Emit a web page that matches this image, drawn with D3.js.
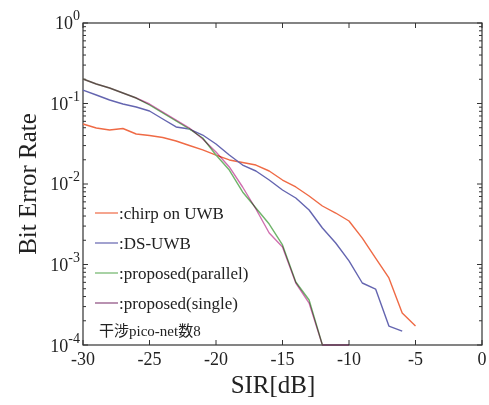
<!DOCTYPE html>
<html><head><meta charset="utf-8">
<script src="https://cdn.jsdelivr.net/npm/d3@7"></script>
<style>body{margin:0;background:#fff}svg{display:block}</style>
</head><body>
<script>
const xChirp = [-30,-29,-28,-27,-26,-25,-24,-23,-22,-21,-20,-19,-18,-17,-16,-15,-14,-13,-12,-11,-10,-9,-8,-7,-6,-5];
const berChirp = [0.0556,0.0496,0.0469,0.0489,0.0418,0.0400,0.0378,0.0342,0.0301,0.0265,0.0229,0.0199,0.0185,0.0172,0.0145,0.0112,0.00918,0.00710,0.00533,0.00436,0.00347,0.00213,0.00120,0.00068,0.000250,0.000172];
const xDS = [-30,-29,-28,-27,-26,-25,-24,-23,-22,-21,-20,-19,-18,-17,-16,-15,-14,-13,-12,-11,-10,-9,-8,-7,-6];
const berDS = [0.147,0.1275,0.1105,0.0986,0.0905,0.0807,0.0642,0.0511,0.0482,0.0406,0.0314,0.0229,0.0172,0.0145,0.0112,0.00842,0.00670,0.00475,0.00284,0.00185,0.00111,0.000589,0.000496,0.000172,0.000149];
const xPar = [-30,-29,-28,-27,-26,-25,-24,-23,-22,-21,-20,-19,-18,-17,-16,-15,-14,-13,-12];
const berPar = [0.2015,0.1747,0.1558,0.135,0.117,0.0958,0.0762,0.0606,0.0482,0.0373,0.0229,0.0149,0.00796,0.00503,0.00318,0.00175,0.000606,0.000362,0.0001];
const xSingle = [-30,-29,-28,-27,-26,-25,-24,-23,-22,-21,-20,-19,-18,-17,-16,-15,-14,-13,-12,-11,-10];
const berSingle = [0.2015,0.1747,0.1558,0.135,0.117,0.0986,0.0784,0.0624,0.0496,0.0362,0.0250,0.0163,0.00918,0.00489,0.00246,0.00165,0.000589,0.000332,0.0001,0.0001,0.0001];
const xTicks = [-30,-25,-20,-15,-10,-5,0];
const yExponents = [0,-1,-2,-3,-4];
const legendLabels = [":chirp on UWB",":DS-UWB",":proposed(parallel)",":proposed(single)"];
const noteText = "干涉pico-net数8";
const colors = ["#ef6a45","#6465b0","#6fb46a","#8a4a7e"];

const W=489,H=405;
const m={l:83,r:7,t:23,b:60};
const svg=d3.select("body").append("svg").attr("width",W).attr("height",H);
const x=d3.scaleLinear().domain([-30,0]).range([m.l,W-m.r]);
const y=d3.scaleLog().domain([1e-4,1]).range([H-m.b,m.t]);
const serif="'Liberation Serif','Times New Roman',serif";

// frame
svg.append("rect").attr("x",x(-30)).attr("y",y(1)).attr("width",x(0)-x(-30)).attr("height",y(1e-4)-y(1))
  .attr("fill","none").attr("stroke","#333").attr("stroke-width",1.2);

// ticks
const minor=[];
for(let e=-4;e<0;e++){for(let k=2;k<=9;k++)minor.push(k*Math.pow(10,e));}
const g=svg.append("g").attr("stroke","#333").attr("stroke-width",1);
const majors=yExponents.map(e=>Math.pow(10,e));
[x(-30),x(0)].forEach((xx,i)=>{
  const dir=i===0?1:-1;
  g.selectAll(null).data(majors).enter().append("line")
    .attr("x1",xx).attr("x2",xx+dir*5).attr("y1",d=>y(d)).attr("y2",d=>y(d));
  g.selectAll(null).data(minor).enter().append("line")
    .attr("x1",xx).attr("x2",xx+dir*3).attr("y1",d=>y(d)).attr("y2",d=>y(d));
});
[y(1e-4),y(1)].forEach((yy,i)=>{
  const dir=i===0?-1:1;
  g.selectAll(null).data(xTicks).enter().append("line")
    .attr("x1",d=>x(d)).attr("x2",d=>x(d)).attr("y1",yy).attr("y2",yy+dir*5);
});

// tick labels
svg.selectAll(null).data(xTicks).enter().append("text")
  .attr("x",d=>x(d)).attr("y",y(1e-4)+20).attr("text-anchor","middle")
  .attr("font-family",serif).attr("font-size",18).attr("fill","#222")
  .text(d=>d===0?"0":String(d));
const yl=svg.selectAll(null).data(yExponents).enter().append("text")
  .attr("x",m.l-3).attr("y",d=>y(Math.pow(10,d))+(d===-4?7:6)).attr("text-anchor","end")
  .attr("font-family",serif).attr("font-size",18).attr("fill","#222");
yl.append("tspan").text("10");
yl.append("tspan").attr("dy",-9).attr("font-size",14).text(d=>String(d));

// axis labels
svg.append("text").attr("x",273).attr("y",393).attr("text-anchor","middle")
  .attr("font-family",serif).attr("font-size",25).attr("fill","#222").text("SIR[dB]");
svg.append("text").attr("transform","translate(36,184) rotate(-90)").attr("text-anchor","middle")
  .attr("font-family",serif).attr("font-size",25).attr("fill","#222").text("Bit Error Rate");

// lines
const line=d3.line().x(d=>x(d[0])).y(d=>y(d[1]));
const series=[[xChirp,berChirp],[xDS,berDS],[xPar,berPar],[xSingle,berSingle]];
series.forEach(([xs,vs],i)=>{
  svg.append("path").datum(xs.map((v,j)=>[v,vs[j]]))
    .attr("d",line).attr("fill","none").attr("stroke",i===3?"#d070b0":colors[i]).attr("stroke-width",1.4)
    .attr("stroke-linejoin","round").style("mix-blend-mode",i===3?"multiply":"normal");
});

// legend
const lg=svg.append("g");
legendLabels.forEach((t,i)=>{
  const yy=213+i*30;
  lg.append("line").attr("x1",95).attr("x2",118).attr("y1",yy).attr("y2",yy).attr("stroke",colors[i]).attr("stroke-width",1.2);
  lg.append("text").attr("x",119).attr("y",yy+6).attr("font-family",serif).attr("font-size",17).attr("fill","#222").text(t);
});
lg.append("text").attr("x",99).attr("y",336).attr("font-family","'Liberation Serif','Noto Sans CJK JP',serif").attr("font-size",15).attr("fill","#222").text(noteText);
</script>
</body></html>
